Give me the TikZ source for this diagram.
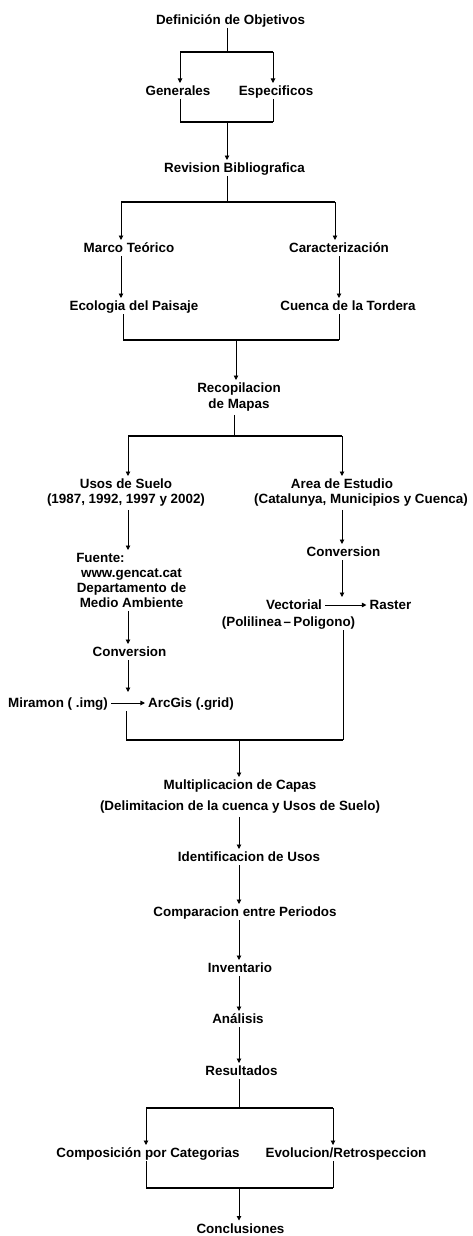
\documentclass[tikz,border=0pt]{standalone}
\usepackage{fontspec}
\setmainfont{Liberation Sans}
\usetikzlibrary{arrows.meta}

\tikzset{
  txt/.style={font=\bfseries\fontsize{13.4}{15}\selectfont, inner sep=0pt,
    outer sep=3.2pt, text height=9.6pt, text depth=0pt},
  txtm/.style={font=\bfseries\fontsize{13.4}{15}\selectfont, inner sep=0pt,
    outer sep=3.2pt, align=center},
  ln/.style={line width=0.9pt},
  arr/.style={ln, -{Triangle[length=4.5pt,width=4.5pt]}},
  bar/.style={line width=2pt},
}

\begin{document}
\begin{tikzpicture}[x=1pt,y=-1pt]
  \useasboundingbox (0,0) rectangle (472,1236);
  \node[txt] (obj) at (230.5,20) {Definición de Objetivos};
  \node[txt] (gen) at (178,91) {Generales};
  \node[txt] (esp) at (276,91) {Especificos};
  \node[txt] (rev) at (234.5,168) {Revision Bibliografica};
  \node[txt] (mar) at (129,248) {Marco Teórico};
  \node[txt] (car) at (339,248) {Caracterización};
  \node[txt] (eco) at (134,306) {Ecologia del Paisaje};
  \node[txt] (cue) at (348,306) {Cuenca de la Tordera};
  \node[txtm,anchor=north] (rec) at (239,380) {Recopilacion\\[1pt]de Mapas};
  \node[txtm,anchor=north] (uso) at (126,476) {Usos de Suelo\\(1987, 1992, 1997 y 2002)};
  \node[txtm,anchor=north] (are) at (361,476) {Area de Estudio\hspace*{38pt}\\(Catalunya, Municipios y Cuenca)};
  \node[txt] (con1) at (343.5,552) {Conversion};
  \node[txtm,anchor=north] (fue) at (131.5,550) {Fuente:\hspace*{62pt}\\www.gencat.cat\\Departamento de\\Medio Ambiente};
  \node[txt] (vec) at (294,605) {Vectorial};
  \node[txt] (ras) at (390.5,605) {Raster};
  \node[txt] (pol) at (288.5,622) {(Polilinea\,–\,Poligono)};
  \node[txt] (con2) at (129.5,652) {Conversion};
  \node[txt] (mir) at (58,703) {Miramon ( .img)};
  \node[txt] (arc) at (191,703) {ArcGis (.grid)};
  \node[txtm,anchor=north] (mul) at (240,777) {Multiplicacion de Capas\\[6pt](Delimitacion de la cuenca y Usos de Suelo)};
  \node[txt] (ide) at (249,857) {Identificacion de Usos};
  \node[txt] (cmp) at (245,912) {Comparacion entre Periodos};
  \node[txt] (inv) at (240,968) {Inventario};
  \node[txt] (ana) at (238,1019) {Análisis};
  \node[txt] (res) at (241.5,1071) {Resultados};
  \node[txt] (com) at (148,1153) {Composición por Categorias};
  \node[txt] (evo) at (346,1153) {Evolucion/Retrospeccion};
  \node[txt] (conc) at (240.5,1228.5) {Conclusiones};

  % junctions of the bars
  \coordinate (j1) at (227,52);  \coordinate (j1l) at (180,52);  \coordinate (j1r) at (273,52);
  \coordinate (j2) at (227,122); \coordinate (j2l) at (180,122); \coordinate (j2r) at (273,122);
  \coordinate (j3) at (227,202); \coordinate (j3l) at (121,202); \coordinate (j3r) at (335,202);
  \coordinate (j4) at (236,340); \coordinate (j4l) at (123,340); \coordinate (j4r) at (339,340);
  \coordinate (j5) at (234,436); \coordinate (j5l) at (128,436); \coordinate (j5r) at (342,436);
  \coordinate (j6) at (128,692);
  \coordinate (j7) at (239,740); \coordinate (j7l) at (126,740); \coordinate (j7r) at (343,740);
  \coordinate (ax) at (239,0);
  \coordinate (j8) at (239,1108); \coordinate (j8l) at (146,1108); \coordinate (j8r) at (333,1108);
  \coordinate (j9) at (239,1188); \coordinate (j9l) at (146,1188); \coordinate (j9r) at (333,1188);

  \draw[ln] (obj.south -| j1) -- (j1);
  \draw[bar] (j1l) -- (j1r);
  \draw[arr] (j1l) -- (j1l |- gen.north);
  \draw[arr] (j1r) -- (j1r |- esp.north);
  \draw[ln] (gen.south -| j2l) -- (j2l);
  \draw[ln] (esp.south -| j2r) -- (j2r);
  \draw[bar] (j2l) -- (j2r);
  \draw[arr] (j2) -- (j2 |- rev.north);

  \draw[ln] (rev.south -| j3) -- (j3);
  \draw[bar] (j3l) -- (j3r);
  \draw[arr] (j3l) -- (j3l |- mar.north);
  \draw[arr] (j3r) -- (j3r |- car.north);
  \draw[arr] (mar.south -| j3l) -- (j3l |- eco.north);
  \draw[arr] (car.south -| j4r) -- (j4r |- cue.north);
  \draw[ln] (eco.south -| j4l) -- (j4l);
  \draw[ln] (cue.south -| j4r) -- (j4r);
  \draw[bar] (j4l) -- (j4r);
  \draw[arr] (j4) -- (j4 |- rec.north);

  \draw[ln] (rec.south -| j5) -- (j5);
  \draw[bar] (j5l) -- (j5r);
  \draw[arr] (j5l) -- (j5l |- uso.north);
  \draw[arr] (j5r) -- (j5r |- are.north);
  \draw[arr] (uso.south -| j5l) -- (j5l |- fue.north);
  \draw[arr] (are.south -| j5r) -- (j5r |- con1.north);
  \draw[arr] (fue.south -| j5l) -- (j5l |- con2.north);
  \draw[arr] (con1.south -| j5r) -- (j5r |- vec.north);
  \draw[arr] (vec) -- (ras);
  \draw[arr] (con2.south -| j6) -- (j6);
  \draw[arr] (mir) -- (arc);

  \draw[ln] (mir.south -| j7l) -- (j7l);
  \draw[ln] (pol.south -| j7r) -- (j7r);
  \draw[bar] (j7l) -- (j7r);
  \draw[arr] (j7) -- (j7 |- mul.north);
  \draw[arr] (mul.south -| ax) -- (ax |- ide.north);
  \draw[arr] (ide.south -| ax) -- (ax |- cmp.north);
  \draw[arr] (cmp.south -| ax) -- (ax |- inv.north);
  \draw[arr] (inv.south -| ax) -- (ax |- ana.north);
  \draw[arr] (ana.south -| ax) -- (ax |- res.north);

  \draw[ln] (res.south -| j8) -- (j8);
  \draw[bar] (j8l) -- (j8r);
  \draw[arr] (j8l) -- (j8l |- com.north);
  \draw[arr] (j8r) -- (j8r |- evo.north);
  \draw[ln] (com.south -| j9l) -- (j9l);
  \draw[ln] (evo.south -| j9r) -- (j9r);
  \draw[bar] (j9l) -- (j9r);
  \draw[arr] (j9) -- (j9 |- conc.north);
\end{tikzpicture}
\end{document}
